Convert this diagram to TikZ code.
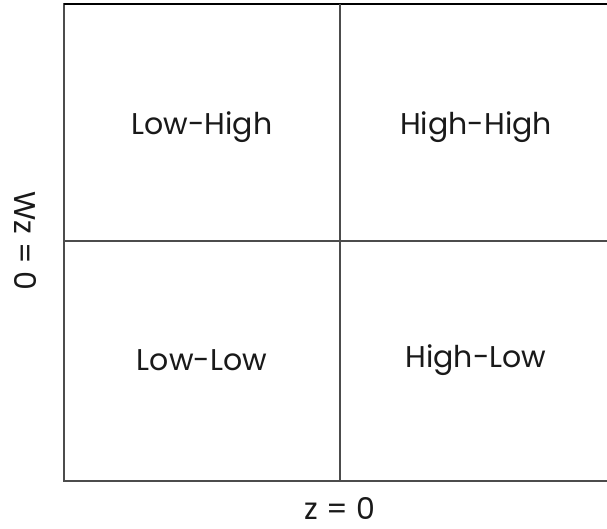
\documentclass[tikz,border=0pt]{standalone}
\usepackage{fontspec}
\setmainfont{Poppins}
\usetikzlibrary{positioning}

\begin{document}
\begin{tikzpicture}[
    x=1pt, y=-1pt,
    gridline/.style={draw=black!70, line width=1.5pt},
    quadlabel/.style={font=\fontsize{30}{36}\selectfont, text=black!90},
    axislabel/.style={font=\fontsize{30}{36}\selectfont, text=black!90, inner sep=0pt}
]
\useasboundingbox (0,0) rectangle (607,529);
% corners of the grid
\coordinate (tl) at (64,4);
\coordinate (tr) at (607,4);
\coordinate (bl) at (64,481);
\coordinate (br) at (607,481);
\coordinate (vt) at (340,4);
\coordinate (vb) at (340,481);
\coordinate (hl) at (64,241);
\coordinate (hr) at (607,241);
\draw[gridline] (tr) -- (tl) -- (bl) -- (br);
\draw[draw=black, line width=1.5pt] (tl) -- (tr);
\draw[gridline] (vt) -- (vb);
\draw[gridline] (hl) -- (hr);
% quadrants
\node[quadlabel] (lowhigh) at (202,127) {Low-High};
\node[quadlabel] (highhigh) at (476,127) {High-High};
\node[quadlabel] (lowlow) at (202,360) {Low-Low};
\node[quadlabel] (highlow) at (476,360) {High-Low};
% axes
\node[axislabel] (zaxis) at (340,508) {z = 0};
\node[axislabel, rotate=-90] (wzaxis) at (25,241) {Wz = 0};
\end{tikzpicture}
\end{document}
